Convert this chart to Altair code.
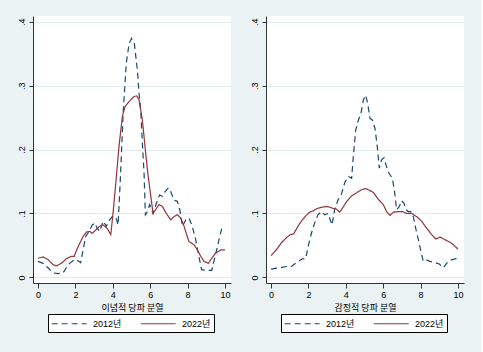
import altair as alt
import pandas as pd

# ---- data ----
years = ["2012년", "2022년"]
panel_titles = ["이념적 당파 분열", "감정적 당파 분열"]
x_ticks = [0, 2, 4, 6, 8, 10]
y_ticks = [0, 0.1, 0.2, 0.3, 0.4]

ideo_2012_x = [0.0, 0.27, 0.53, 0.8, 1.07, 1.34, 1.51, 1.69, 1.96, 2.14, 2.28, 2.41, 2.55, 2.73, 2.9,
               3.03, 3.16, 3.3, 3.48, 3.65, 3.83, 3.97, 4.15, 4.28, 4.4, 4.56, 4.72, 4.87, 5.0, 5.15,
               5.31, 5.4, 5.49, 5.58, 5.67, 5.74, 5.85, 5.97, 6.15, 6.33, 6.5, 6.65, 6.79, 6.97, 7.1,
               7.27, 7.45, 7.58, 7.72, 7.9, 8.07, 8.25, 8.43, 8.6, 8.75, 8.97, 9.29, 9.47, 9.68, 9.86]
ideo_2012_y = [0.025, 0.022, 0.015, 0.007, 0.006, 0.007, 0.015, 0.022, 0.028, 0.026, 0.023, 0.043,
               0.064, 0.072, 0.082, 0.085, 0.077, 0.072, 0.088, 0.08, 0.09, 0.095, 0.095, 0.082, 0.153,
               0.262, 0.335, 0.366, 0.374, 0.366, 0.325, 0.288, 0.262, 0.21, 0.163, 0.098, 0.103,
               0.114, 0.10, 0.116, 0.129, 0.127, 0.134, 0.14, 0.134, 0.121, 0.119, 0.106, 0.08, 0.09,
               0.093, 0.08, 0.059, 0.033, 0.012, 0.011, 0.011, 0.033, 0.059, 0.081]

ideo_2022_x = [0.0, 0.27, 0.53, 0.8, 0.98, 1.25, 1.51, 1.78, 1.93, 2.14, 2.41, 2.59, 2.76, 2.9, 3.12,
               3.3, 3.48, 3.69, 3.89, 4.01, 4.15, 4.33, 4.51, 4.65, 4.78, 4.96, 5.13, 5.28, 5.4, 5.58,
               5.72, 5.85, 5.97, 6.08, 6.15, 6.29, 6.47, 6.65, 6.86, 7.1, 7.27, 7.45, 7.63, 7.81, 7.98,
               8.07, 8.34, 8.52, 8.7, 8.88, 9.11, 9.29, 9.5, 9.77, 10.0]
ideo_2022_y = [0.030, 0.032, 0.028, 0.020, 0.018, 0.022, 0.029, 0.033, 0.033, 0.048, 0.064, 0.071,
               0.072, 0.069, 0.075, 0.08, 0.082, 0.077, 0.067, 0.10, 0.145, 0.205, 0.252, 0.267,
               0.272, 0.278, 0.283, 0.284, 0.278, 0.246, 0.205, 0.168, 0.14, 0.116, 0.10, 0.106,
               0.114, 0.111, 0.10, 0.09, 0.095, 0.098, 0.093, 0.08, 0.064, 0.056, 0.051, 0.043,
               0.033, 0.025, 0.022, 0.030, 0.038, 0.043, 0.043]

aff_2012_x = [0.0, 0.46, 0.82, 1.09, 1.35, 1.67, 1.85, 1.98, 2.16, 2.33, 2.51, 2.69, 2.87, 3.05, 3.13,
              3.26, 3.4, 3.58, 3.76, 3.94, 4.13, 4.31, 4.4, 4.53, 4.67, 4.81, 4.94, 5.06, 5.17, 5.29,
              5.42, 5.56, 5.68, 5.79, 5.91, 6.04, 6.18, 6.31, 6.49, 6.6, 6.72, 6.86, 6.98, 7.11, 7.22,
              7.34, 7.47, 7.61, 7.75, 7.88, 8.0, 8.14, 8.32, 8.5, 8.77, 9.0, 9.21, 9.39, 9.6, 9.84, 10.0]
aff_2012_y = [0.013, 0.015, 0.017, 0.017, 0.023, 0.029, 0.029, 0.048, 0.069, 0.085, 0.098, 0.103,
              0.098, 0.10, 0.093, 0.082, 0.106, 0.121, 0.13, 0.148, 0.158, 0.155, 0.189, 0.231,
              0.246, 0.257, 0.278, 0.285, 0.272, 0.249, 0.246, 0.233, 0.205, 0.171, 0.184, 0.187,
              0.173, 0.163, 0.155, 0.135, 0.106, 0.111, 0.12, 0.116, 0.106, 0.103, 0.103, 0.095,
              0.075, 0.059, 0.043, 0.025, 0.027, 0.025, 0.023, 0.021, 0.015, 0.022, 0.027, 0.029, 0.030]

aff_2022_x = [0.0, 0.28, 0.55, 0.82, 1.03, 1.21, 1.44, 1.62, 1.85, 2.06, 2.25, 2.42, 2.6, 2.78, 2.96,
              3.13, 3.31, 3.49, 3.67, 3.81, 4.03, 4.29, 4.56, 4.83, 5.06, 5.2, 5.47, 5.74, 6.0, 6.18,
              6.36, 6.54, 6.81, 7.04, 7.25, 7.52, 7.79, 8.05, 8.32, 8.59, 8.82, 9.04, 9.3, 9.57, 9.79, 10.0]
aff_2022_y = [0.034, 0.043, 0.054, 0.062, 0.067, 0.068, 0.08, 0.088, 0.096, 0.102, 0.104, 0.107,
              0.109, 0.11, 0.111, 0.11, 0.108, 0.107, 0.102, 0.108, 0.118, 0.127, 0.132, 0.137,
              0.139, 0.137, 0.133, 0.122, 0.114, 0.103, 0.097, 0.102, 0.103, 0.103, 0.10, 0.10,
              0.095, 0.088, 0.077, 0.067, 0.06, 0.063, 0.059, 0.055, 0.05, 0.044]

# ---- styling ----
BG = "#EAF2F3"
NUM_FONT = "Liberation Sans, Noto Sans CJK KR"
KR_FONT = "Noto Sans CJK KR"
COLORS = ["#1a476f", "#90353b"]


def frame(xs2012, ys2012, xs2022, ys2022):
    a = pd.DataFrame({"x": xs2012, "y": ys2012, "year": years[0], "o": range(len(xs2012))})
    b = pd.DataFrame({"x": xs2022, "y": ys2022, "year": years[1], "o": range(len(xs2022))})
    return pd.concat([a, b], ignore_index=True)


def legend():
    return alt.Legend(title=None, orient="none", legendX=15, legendY=298,
                      direction="horizontal", strokeColor="black", fillColor="white",
                      padding=3, cornerRadius=0, symbolType="M-1,0H5", symbolSize=136,
                      symbolStrokeWidth=1.2, symbolFillColor="transparent",
                      labelFontSize=9, labelFont=NUM_FONT, labelColor="black",
                      columnPadding=16, labelOffset=29)


def panel(df, title):
    return alt.Chart(df).mark_line(strokeWidth=1.2).encode(
        x=alt.X("x:Q",
                scale=alt.Scale(domain=[-0.27, 10.32], nice=False, zero=False),
                axis=alt.Axis(values=x_ticks, title=title, grid=False, tickSize=5,
                              labelPadding=2, labelFontSize=9, labelFont=NUM_FONT,
                              titleFont=KR_FONT, titleFontSize=9, titleFontWeight="normal",
                              titlePadding=4, titleColor="black", labelColor="black",
                              domainColor="#333333", tickColor="#333333", labelFlush=False)),
        y=alt.Y("y:Q",
                scale=alt.Scale(domain=[-0.0088, 0.409], nice=False, zero=False),
                axis=alt.Axis(values=y_ticks, title=None, grid=True, gridColor="#E2ECEE",
                              gridWidth=1, tickSize=4, labelPadding=3, labelFontSize=9,
                              labelFont=NUM_FONT, labelAngle=270, labelAlign="center",
                              labelBaseline="bottom", labelColor="black",
                              domainColor="#333333", tickColor="#333333", labelFlush=False,
                              labelExpr="datum.value == 0 ? '0' : replace(format(datum.value, '.1f'), '0.', '.')")),
        color=alt.Color("year:N", scale=alt.Scale(domain=years, range=COLORS), legend=legend()),
        strokeDash=alt.StrokeDash("year:N",
                                  scale=alt.Scale(domain=years, range=[[6, 4], [1, 0]]),
                                  legend=legend()),
        order="o:Q",
        detail="year:N",
    ).properties(width=198, height=267)


left = panel(frame(ideo_2012_x, ideo_2012_y, ideo_2022_x, ideo_2022_y), panel_titles[0])
right = panel(frame(aff_2012_x, aff_2012_y, aff_2022_x, aff_2022_y), panel_titles[1])

chart = alt.hconcat(left, right, spacing=19).resolve_legend(
    color="independent", strokeDash="independent"
).properties(
    background=BG,
    padding={"left": 17, "top": 16, "right": 17, "bottom": 20},
).configure_view(strokeWidth=0, fill="white")

chart.save("out.html", embed_options={"renderer": "svg", "actions": False})
